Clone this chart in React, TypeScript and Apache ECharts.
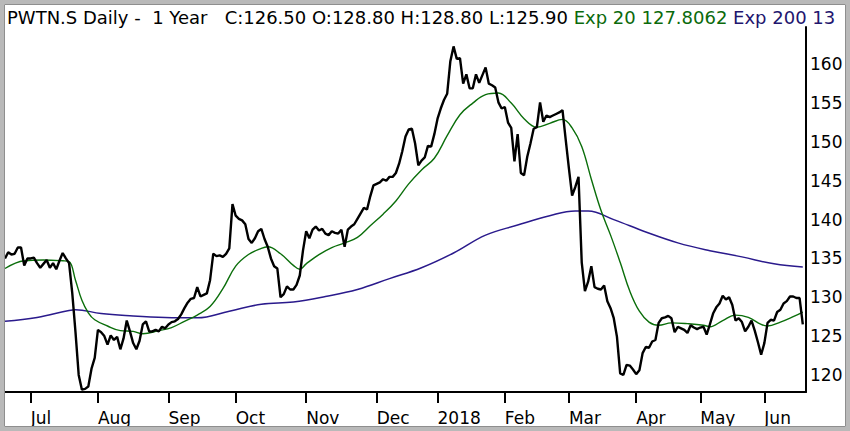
import React, { useEffect, useRef } from "react";
import * as echarts from "echarts";

// ---- categories (trading days) ----
const START_DATE = "2017-06-21";
const END_DATE = "2018-06-20";
const HOLIDAYS = [
  "2017-08-01", "2017-12-25", "2017-12-26", "2018-01-01", "2018-01-02",
  "2018-03-30", "2018-04-02", "2018-05-01", "2018-05-10", "2018-05-21",
];
const MONTH_NAMES = ["Jan", "Feb", "Mar", "Apr", "May", "Jun", "Jul", "Aug", "Sep", "Oct", "Nov", "Dec"];
const Y_TICKS = [120, 125, 130, 135, 140, 145, 150, 155, 160];

// ---- daily close ----
const PRICE = [
  135.0, 135.8, 135.5, 135.6, 136.4, 136.4, 134.1, 135.0, 135.0, 135.1,
  134.4, 133.8, 134.3, 134.8, 133.8, 134.4, 133.6, 134.7, 135.7, 135.0,
  134.4, 130.5, 125.5, 120.0, 118.1, 118.2, 118.5, 120.8, 122.2, 125.8,
  125.5, 125.0, 123.9, 125.1, 124.5, 124.9, 123.3, 124.7, 127.0, 125.6,
  124.1, 123.3, 124.4, 126.5, 126.9, 125.6, 125.6, 125.8, 125.6, 126.2,
  126.0, 126.5, 126.8, 126.9, 127.2, 127.8, 128.6, 129.3, 129.8, 129.9,
  131.3, 130.1, 130.3, 130.5, 132.2, 135.6, 135.3, 135.4, 135.2, 135.6,
  136.3, 142.0, 140.5, 140.1, 139.9, 139.4, 137.5, 137.0, 137.6, 138.5,
  138.8, 137.5, 136.5, 135.0, 134.0, 133.7, 130.0, 130.4, 131.4, 131.0,
  131.0, 131.6, 132.8, 136.0, 138.5, 137.6, 138.7, 139.1, 138.6, 138.8,
  138.2, 138.0, 138.5, 138.3, 138.2, 138.7, 136.5, 138.7, 139.1, 139.4,
  140.1, 140.8, 141.5, 141.3, 143.0, 144.4, 144.6, 144.8, 145.2, 145.0,
  145.5, 145.5, 146.0, 147.2, 148.8, 150.7, 151.6, 151.7, 149.8, 147.0,
  147.6, 148.0, 149.5, 149.4, 151.0, 153.0, 154.3, 155.4, 156.2, 160.4,
  162.3, 160.7, 160.8, 157.5, 158.7, 156.9, 156.9, 158.7, 157.6, 158.6,
  159.6, 157.5, 157.3, 157.0, 155.1, 154.3, 154.5, 152.5, 151.8, 147.5,
  151.0, 146.0, 145.7, 148.1, 149.8, 151.7, 151.9, 155.1, 152.6, 153.4,
  153.2, 153.4, 153.6, 153.8, 154.1, 150.3, 146.6, 143.1, 144.2, 145.5,
  134.5, 130.8, 132.0, 134.0, 131.3, 131.1, 131.0, 131.5, 129.5, 128.6,
  127.3, 124.9, 120.2, 120.0, 121.3, 121.2, 120.7, 120.1, 120.6, 122.8,
  123.6, 123.5, 124.3, 124.5, 126.7, 127.3, 127.4, 127.6, 127.3, 125.5,
  126.2, 126.0, 125.8, 125.4, 126.4, 126.1, 125.9, 126.1, 126.2, 125.2,
  126.5, 127.9, 128.7, 129.2, 130.2, 129.7, 130.0, 129.0, 127.0, 127.3,
  126.8, 125.6, 126.2, 127.0, 125.7, 124.2, 122.6, 124.1, 126.7, 127.1,
  127.0, 128.1, 128.4, 129.2, 129.5, 130.1, 130.1, 129.9, 129.9, 126.5,
];

// ---- Exp 20 (read at trading-day indexes) ----
const EMA20_IDX = [
  0, 6, 12, 18, 20, 22, 24, 26, 28, 32, 36, 40, 43, 48, 52, 56, 60, 64, 68, 72,
  76, 80, 82, 86, 90, 92, 94, 98, 102, 106, 110, 114, 118, 122, 126, 130, 134, 138, 142, 146,
  150, 154, 158, 162, 166, 170, 174, 177, 180, 183, 186, 189, 192, 195, 198, 201, 204, 208, 213, 218,
  220, 224, 228, 232, 236, 238, 242, 246, 249,
];
const EMA20_VAL = [
  133.7, 134.7, 134.8, 134.7, 134.6, 132.2, 129.6, 128.0, 127.1, 126.3, 125.7, 125.6, 125.3, 125.7, 126.1, 126.9, 127.7, 128.8, 131.1, 134.0,
  135.5, 136.3, 136.5, 135.6, 134.1, 133.6, 134.3, 135.5, 136.4, 137.0, 137.7, 139.2, 140.7, 142.4, 144.6, 146.4, 147.9, 150.8, 153.5, 155.0,
  156.1, 156.3, 155.0, 153.0, 151.9, 152.4, 152.9, 151.8, 149.4, 145.2, 141.2, 138.0, 134.5, 130.8, 128.2, 126.8, 126.4, 126.7, 126.6, 126.4,
  126.2, 127.0, 127.7, 127.4, 126.5, 126.3, 126.8, 127.5, 128.1,
];

// ---- Exp 200 (read at trading-day indexes) ----
const EMA200_IDX = [0, 10, 20, 22, 30, 40, 50, 60, 70, 80, 90, 100, 110, 120, 130, 140, 150, 160, 170, 178, 182, 190, 200, 210, 220, 230, 240, 249];
const EMA200_VAL = [126.9, 127.4, 128.3, 128.4, 127.9, 127.6, 127.4, 127.35, 128.2, 129.1, 129.4, 130.1, 131.0, 132.4, 133.8, 135.7, 138.0, 139.3, 140.5, 141.1, 141.1, 140.0, 138.4, 137.0, 136.0, 135.2, 134.3, 133.9];

// ---- header ----
const HEADER_MAIN = "PWTN.S Daily -  1 Year   C:126.50 O:128.80 H:128.80 L:125.90";
const HEADER_EXP20 = "Exp 20 127.8062";
const HEADER_EXP200 = "Exp 200 133.9846";

const FONT = "DejaVu Sans";
const C_PRICE = "#000000";
const C_EMA20 = "#0b6e0b";
const C_EMA200 = "#2a1a8c";

function fmt(d: Date) {
  const m = d.getUTCMonth() + 1;
  const day = d.getUTCDate();
  return `${d.getUTCFullYear()}-${m < 10 ? "0" + m : m}-${day < 10 ? "0" + day : day}`;
}

function buildDays() {
  const out: string[] = [];
  const hol = new Set(HOLIDAYS);
  const [sy, sm, sd] = START_DATE.split("-").map(Number);
  const [ey, em, ed] = END_DATE.split("-").map(Number);
  let t = Date.UTC(sy, sm - 1, sd);
  const end = Date.UTC(ey, em - 1, ed);
  while (t <= end) {
    const d = new Date(t);
    const wd = d.getUTCDay();
    const s = fmt(d);
    if (wd !== 0 && wd !== 6 && !hol.has(s)) out.push(s);
    t += 86400000;
  }
  return out;
}

export default function App() {
  const ref = useRef<HTMLDivElement>(null);
  useEffect(() => {
    if (!ref.current) return;
    const chart = echarts.init(ref.current, undefined, { renderer: "svg" });
    const days = buildDays();
    const monthStart = new Set<number>();
    for (let i = 1; i < days.length; i++) {
      if (days[i].slice(5, 7) !== days[i - 1].slice(5, 7)) monthStart.add(i);
    }
    const isStart = (idx: number) => monthStart.has(idx);
    const ema20 = EMA20_IDX.map((ix, k) => [ix, EMA20_VAL[k]]);
    const ema200 = EMA200_IDX.map((ix, k) => [ix, EMA200_VAL[k]]);

    chart.setOption({
      animation: false,
      backgroundColor: "#ffffff",
      title: {
        left: 7,
        top: 8,
        padding: 0,
        text: `{k|${HEADER_MAIN}} {g|${HEADER_EXP20}} {n|${HEADER_EXP200}}`,
        textStyle: {
          fontFamily: FONT,
          fontSize: 18,
          fontWeight: "normal",
          width: 839,
          overflow: "truncate",
          ellipsis: "",
          rich: {
            k: { color: "#000000", fontFamily: FONT, fontSize: 18 },
            g: { color: "#0b6a0b", fontFamily: FONT, fontSize: 18 },
            n: { color: "#22156e", fontFamily: FONT, fontSize: 18 },
          },
        },
      },
      grid: { left: 5, right: 44, top: 27, bottom: 39, containLabel: false },
      xAxis: {
        type: "category",
        data: days,
        boundaryGap: false,
        axisLine: { show: true, lineStyle: { color: "#000", width: 2 } },
        axisTick: {
          show: true,
          interval: (idx: number) => isStart(idx),
          length: 11,
          lineStyle: { color: "#000", width: 2 },
        },
        axisLabel: {
          interval: (idx: number) => isStart(idx),
          align: "left",
          margin: 17,
          color: "#000",
          fontFamily: FONT,
          fontSize: 17,
          formatter: (v: string) => {
            const m = Number(v.slice(5, 7)) - 1;
            return m === 0 ? v.slice(0, 4) : MONTH_NAMES[m];
          },
        },
        splitLine: { show: false },
      },
      yAxis: {
        type: "value",
        position: "right",
        min: 117.8,
        max: 164.8,
        axisLine: { show: true, lineStyle: { color: "#000", width: 2 } },
        axisTick: { show: false },
        splitLine: { show: false },
        axisLabel: {
          customValues: Y_TICKS,
          margin: 4,
          color: "#000",
          fontFamily: FONT,
          fontSize: 17,
        },
      },
      series: [
        {
          name: "Exp 200",
          type: "line",
          data: ema200,
          symbol: "none",
          smooth: 0.4,
          lineStyle: { color: C_EMA200, width: 1.5 },
          z: 2,
        },
        {
          name: "Exp 20",
          type: "line",
          data: ema20,
          symbol: "none",
          smooth: 0.4,
          lineStyle: { color: C_EMA20, width: 1.4 },
          z: 3,
        },
        {
          name: "Close",
          type: "line",
          data: PRICE,
          symbol: "none",
          lineStyle: { color: C_PRICE, width: 2.4 },
          z: 4,
        },
      ],
      graphic: [
        {
          type: "rect",
          z: 100,
          silent: true,
          shape: { x: 2, y: 2, width: 846, height: 427 },
          style: { fill: "none", stroke: "#b9b9b9", lineWidth: 4 },
        },
        {
          type: "rect",
          z: 101,
          silent: true,
          shape: { x: 4.5, y: 4.5, width: 841, height: 422 },
          style: { fill: "none", stroke: "#8e8e8e", lineWidth: 1 },
        },
      ],
    });
    return () => chart.dispose();
  }, []);
  return <div ref={ref} style={{ position: "fixed", left: 0, top: 0, width: 850, height: 431 }} />;
}
